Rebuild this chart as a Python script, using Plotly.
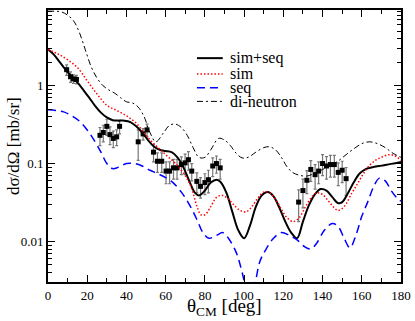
import plotly.graph_objects as go

# --- data ----------------------------------------------------------------- #

theta_sim_seq = [0, 3, 6, 9, 12, 15, 18, 21, 24, 27, 30, 33, 36, 39, 42, 45, 48, 51, 54,
                 57, 60, 63, 66, 69, 72, 75, 77, 80, 83, 86, 88, 91, 94, 97, 100, 103,
                 106, 109, 112, 115, 118, 121, 124, 127, 130, 133, 136, 139, 142, 145,
                 148, 150, 153, 156, 159, 162, 166, 170, 175, 180]
sim_seq = [2.9, 2.5, 2.0, 1.6, 1.3, 1.1, 0.88, 0.7, 0.55, 0.45, 0.39, 0.36, 0.355, 0.355,
           0.34, 0.3, 0.25, 0.2, 0.165, 0.15, 0.145, 0.14, 0.12, 0.09, 0.06, 0.042, 0.039,
           0.045, 0.057, 0.062, 0.058, 0.042, 0.024, 0.014, 0.011, 0.016, 0.028, 0.039,
           0.043, 0.038, 0.027, 0.018, 0.013, 0.011, 0.018, 0.029, 0.04, 0.047, 0.045,
           0.037, 0.031, 0.032, 0.042, 0.058, 0.075, 0.085, 0.09, 0.094, 0.099, 0.105]

theta_sim = [0, 5, 10, 15, 20, 25, 30, 35, 40, 45, 50, 55, 60, 65, 70, 73, 76, 78, 80, 83,
             86, 89, 92, 95, 98, 101, 104, 107, 110, 113, 116, 119, 122, 125, 128, 131,
             134, 137, 140, 143, 146, 148, 151, 155, 158, 161, 164, 167, 170, 174, 177, 180]
sim = [2.9, 2.55, 2.15, 1.7, 1.15, 0.78, 0.56, 0.48, 0.41, 0.33, 0.23, 0.17, 0.13, 0.1,
       0.07, 0.05, 0.028, 0.022, 0.022, 0.028, 0.037, 0.039, 0.035, 0.029, 0.025, 0.024,
       0.028, 0.036, 0.043, 0.042, 0.035, 0.026, 0.02, 0.018, 0.02, 0.027, 0.036, 0.042,
       0.04, 0.033, 0.027, 0.025, 0.028, 0.042, 0.056, 0.075, 0.095, 0.11, 0.12, 0.13,
       0.125, 0.11]

theta_seq = [0, 4, 8, 12, 16, 20, 24, 27, 30, 33, 36, 40, 44, 48, 52, 56, 60, 64, 68, 72,
             76, 79, 82, 86, 89, 92, 96, 98.5, 100.5, 103, 105.7, 108, 111, 115, 119, 123,
             127, 131, 134, 137, 141, 145, 148, 151, 154, 157, 160, 163, 166, 169, 172,
             175, 178, 180]
seq = [0.49, 0.48, 0.46, 0.41, 0.35, 0.27, 0.19, 0.14, 0.1, 0.086, 0.09, 0.1, 0.1, 0.093,
       0.082, 0.074, 0.066, 0.056, 0.043, 0.03, 0.019, 0.013, 0.011, 0.012, 0.013, 0.011,
       0.0072, 0.0045, 0.0028, 0.0018, 0.003, 0.0055, 0.0078, 0.011, 0.013, 0.012, 0.0105,
       0.0085, 0.008, 0.0095, 0.014, 0.017, 0.0155, 0.011, 0.0083, 0.012, 0.021, 0.032,
       0.05, 0.065, 0.06, 0.045, 0.036, 0.033]

theta_dineutron = [0, 4, 7, 10, 13, 16, 19, 22, 25, 28, 31, 34, 37, 40, 43, 46, 49, 52, 55,
                   59, 62, 65, 68, 71, 74, 77, 80, 83, 87, 90, 93, 96, 99, 102, 106, 110,
                   113, 116, 119, 122, 125, 129, 132, 136, 140, 144, 148, 152, 156, 160,
                   164, 168, 172, 176, 180]
dineutron = [9.0, 9.0, 8.8, 8.0, 6.8, 4.8, 2.9, 1.75, 1.25, 1.0, 0.88, 0.8, 0.7, 0.62, 0.6,
             0.53, 0.4, 0.25, 0.19, 0.25, 0.31, 0.32, 0.29, 0.23, 0.16, 0.12, 0.12, 0.15,
             0.21, 0.2, 0.17, 0.135, 0.118, 0.12, 0.14, 0.16, 0.164, 0.15, 0.12, 0.09, 0.076,
             0.07, 0.069, 0.075, 0.084, 0.095, 0.108, 0.13, 0.155, 0.18, 0.19, 0.18, 0.16,
             0.135, 0.12]

theta_exp = [9.5, 11.5, 13.0, 14.5, 26.5, 28.2, 30.0, 31.6, 33.3, 35.0, 36.5, 46.0, 48.5,
             50.5, 53.8, 55.8, 58.0, 60.2, 62.0, 64.0, 65.8, 68.0, 69.9, 71.6, 73.3, 75.9,
             77.8, 80.0, 81.8, 84.0, 85.9, 87.8, 127.8, 130.0, 132.0, 134.0, 136.2, 138.0,
             140.0, 142.0, 144.0, 146.0, 148.0, 150.0, 152.0]
xs_exp = [1.6, 1.3, 1.22, 1.2, 0.23, 0.25, 0.30, 0.235, 0.21, 0.22, 0.30, 0.19, 0.24, 0.27,
          0.14, 0.107, 0.107, 0.08, 0.08, 0.088, 0.088, 0.097, 0.102, 0.112, 0.08, 0.059,
          0.051, 0.057, 0.062, 0.093, 0.1, 0.088, 0.032, 0.045, 0.061, 0.084, 0.072, 0.08,
          0.1, 0.093, 0.097, 0.097, 0.077, 0.082, 0.064]
err_exp = [0.25, 0.2, 0.15, 0.15, 0.06, 0.06, 0.07, 0.06, 0.05, 0.05, 0.06, 0.08, 0.04,
           0.05, 0.035, 0.03, 0.03, 0.025, 0.025, 0.025, 0.025, 0.025, 0.03, 0.03, 0.02,
           0.017, 0.015, 0.017, 0.02, 0.025, 0.025, 0.025, 0.014, 0.018, 0.02, 0.025, 0.025,
           0.025, 0.03, 0.03, 0.03, 0.03, 0.025, 0.025, 0.025]

legend_labels = ["sim+seq", "sim", "seq", "di-neutron"]

FONT = "Liberation Serif, Times New Roman, Times, serif"

# line styles per curve (legend order)
STYLES = [dict(color="black", width=2),
          dict(color="#ff0000", width=1.5, dash="1.5px,2px"),
          dict(color="#0000ff", width=1.5, dash="8px,5px"),
          dict(color="black", width=1, dash="6px,3px,2px,3px")]

fig = go.Figure()

fig.add_trace(go.Scatter(
    x=theta_exp, y=xs_exp, mode="markers", showlegend=False,
    marker=dict(symbol="square", size=5, color="black"),
    error_y=dict(type="data", array=err_exp, color="#777777", thickness=1.2, width=1.5),
))
for xs, ys, style in zip([theta_sim_seq, theta_sim, theta_seq, theta_dineutron],
                         [sim_seq, sim, seq, dineutron], STYLES):
    fig.add_trace(go.Scatter(x=xs, y=ys, mode="lines", showlegend=False,
                             line=dict(shape="spline", **style)))

# legend drawn by hand so the rows sit as tightly as in the reference
row_y = [0.823, 0.765, 0.714, 0.664]
for label, style, ry in zip(legend_labels, STYLES, row_y):
    fig.add_shape(type="line", xref="paper", yref="paper", x0=0.422, x1=0.495,
                  y0=ry, y1=ry, line=style)
    fig.add_annotation(text=label, xref="paper", yref="paper", x=0.51, y=ry,
                       xanchor="left", yanchor="middle", showarrow=False,
                       font=dict(family=FONT, size=16, color="black"))

# axis titles as annotations so their distance from the frame can be set
fig.add_annotation(text="θ<sub>CM</sub> [deg]", xref="paper", yref="paper",
                   x=0.5, y=-0.092, xanchor="center", yanchor="middle",
                   showarrow=False, font=dict(family=FONT, size=19, color="black"))
fig.add_annotation(text="dσ/dΩ [mb/sr]", xref="paper", yref="paper", textangle=-90,
                   x=-0.099, y=0.5, xanchor="center", yanchor="middle",
                   showarrow=False, font=dict(family=FONT, size=17, color="black"))

axis = dict(showline=True, linecolor="black", linewidth=2, mirror="allticks",
            ticks="inside", tickcolor="black", tickwidth=1, ticklen=7,
            showgrid=False, zeroline=False, automargin=False,
            tickfont=dict(family=FONT, size=13, color="black"))

minor_y = [m * 10.0 ** e for e in (-3, -2, -1, 0) for m in range(2, 10)]

fig.update_xaxes(range=[0, 180], dtick=20,
                 minor=dict(dtick=10, ticks="inside", ticklen=4, tickcolor="black"),
                 **axis)
fig.update_yaxes(type="log", range=[-2.52, 0.97],
                 tickvals=[0.01, 0.1, 1], ticktext=["0.01", "0.1", "1"],
                 minor=dict(tickmode="array", tickvals=minor_y, ticks="inside",
                            ticklen=4, tickcolor="black"),
                 **axis)

fig.update_layout(
    width=415, height=321,
    margin=dict(l=48, r=14, t=10, b=39),
    paper_bgcolor="white", plot_bgcolor="white",
    font=dict(family=FONT, color="black"),
    showlegend=False,
)

# drop the page's default 8px body margin so the figure fills the window
fig.write_html("out.html", config={"displayModeBar": False},
               post_script="document.body.style.margin = '0';")
